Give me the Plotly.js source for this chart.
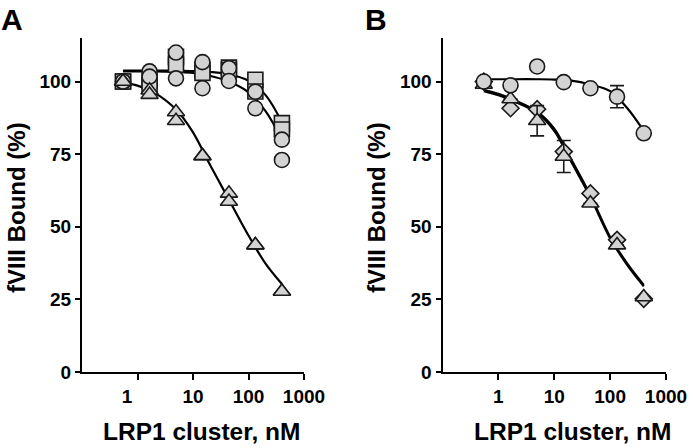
<!DOCTYPE html>
<html>
<head>
<meta charset="utf-8">
<script src="https://cdn.plot.ly/plotly-3.0.1.min.js"></script>
<style>html,body{margin:0;padding:0;background:#fff;}#chart{width:693px;height:448px;}</style>
</head>
<body>
<div id="chart"></div>
<script>
// LRP1 cluster concentrations (nM)
const conc = [0.549, 1.65, 4.94, 14.8, 44.4, 133, 400];

// Panel A – replicate values (% fVIII bound)
const circA1 = [100, 103.5, 110, 106.7, 104.6, 96.5, 80];
const circA2 = [100, 101.7, 101.1, 97.7, 100.2, 90.8, 73];
const sqA1 = [100, 100.2, 108.5, 104, 104.8, 100.6, 85.7];
const sqA2 = [100, 98.8, 105.8, 103, 104, 96.6, 83.5];
const triA1 = [100, 97, 89.5, 74.4, 61.5, 43.7, 27.7];
const triA2 = [100, 95.5, 86.5, 74.4, 58.7, 43.7, 27.7];

// Panel B – means (% fVIII bound) and SD
const circB = [100, 98.7, 105.2, 99.8, 97.7, 94.8, 82.2];
const circBErr = [0, 0, 0, 0, 0, 3.8, 0];
const triB = [99, 94, 86.5, 74.2, 58.1, 43.7, 25.8];
const triBErr = [0, 0, 5.2, 5.5, 0, 0, 0];
const diaB = [100, 90.8, 90.5, 75.9, 61.5, 45.5, 25.2];

// Fitted curves
const fitX = [0.55, 1, 2, 5, 10, 20, 44, 100, 200, 400];
const fitCircA = [103.5, 103.5, 103.5, 103.3, 103, 102, 100, 96.3, 90, 80];
const fitSqA = [103.8, 103.8, 103.8, 103.7, 103.6, 103.3, 102.5, 100.3, 95.5, 86];
const fitTriA = [99.7, 98.6, 96.2, 90.3, 82.5, 71.5, 59.5, 47, 37.5, 30.3];
const fitCircB = [100.8, 100.8, 100.8, 100.8, 100.7, 100.3, 99, 96.7, 91, 83];
const fitTriB = [96.7, 95.3, 93, 89.1, 83, 72.5, 60.3, 46, 37, 29.5];
const fitDiaB = [97.2, 95.8, 93.5, 89.6, 83.8, 73.3, 61, 46.5, 37.5, 30];

const xTicks = [1, 10, 100, 1000];
const xTickTextA = ['1\u00a0\u00a0\u00a0\u00a0', '10', '100', '1000'];
const xTickTextB = ['1', '10', '100', '1000'];
const yTicks = [0, 25, 50, 75, 100];

const fill = '#d3d3d3';
const edge = '#1a1a1a';

function curve(x, y, xa, ya) {
  return {x: x, y: y, xaxis: xa, yaxis: ya, type: 'scatter', mode: 'lines',
    line: {color: '#000', width: 2.2, shape: 'spline', smoothing: 1}, hoverinfo: 'skip'};
}
function pts(y, sym, size, xa, ya, err) {
  const t = {x: conc, y: y, xaxis: xa, yaxis: ya, type: 'scatter', mode: 'markers',
    marker: {symbol: sym, size: size, color: fill, line: {color: edge, width: 1.6}}};
  if (err) t.error_y = {type: 'data', array: err, visible: true, color: edge, thickness: 1.6, width: 7};
  return t;
}

const data = [
  curve(fitX, fitCircA, 'x', 'y'),
  curve(fitX, fitSqA, 'x', 'y'),
  curve(fitX, fitTriA, 'x', 'y'),
  pts(sqA1, 'square', 15, 'x', 'y'),
  pts(sqA2, 'square', 15, 'x', 'y'),
  pts(circA1, 'circle', 15, 'x', 'y'),
  pts(circA2, 'circle', 15, 'x', 'y'),
  pts(triA1, 'triangle-up', 15, 'x', 'y'),
  pts(triA2, 'triangle-up', 15, 'x', 'y'),
  curve(fitX, fitCircB, 'x2', 'y2'),
  curve(fitX, fitTriB, 'x2', 'y2'),
  curve(fitX, fitDiaB, 'x2', 'y2'),
  pts(diaB, 'diamond', 13, 'x2', 'y2'),
  pts(triB, 'triangle-up', 15, 'x2', 'y2', triBErr),
  pts(circB, 'circle', 15, 'x2', 'y2', circBErr)
];

const tickFont = {family: 'Liberation Sans, Arial, sans-serif', size: 19, color: '#000', weight: 'bold'};
function xa(domain, anchor, txt) {
  return {domain: domain, anchor: anchor, type: 'log', range: [-1, 3], tickvals: xTicks, ticktext: txt,
    ticks: 'outside', ticklen: 6, tickwidth: 2, tickcolor: '#000', showline: true, linewidth: 2,
    linecolor: '#000', showgrid: false, zeroline: false, tickfont: tickFont, fixedrange: true};
}
function ya(domain, anchor) {
  return {domain: domain, anchor: anchor, range: [0, 115], tickvals: yTicks, ticktext: yTicks.map(String),
    ticks: 'outside', ticklen: 5, tickwidth: 2, tickcolor: '#000', showline: true, linewidth: 2,
    linecolor: '#000', showgrid: false, zeroline: false, tickfont: tickFont, fixedrange: true};
}

const W = 693, H = 448;
const annFont = (s) => ({family: 'Liberation Sans, Arial, sans-serif', size: s, color: '#000', weight: 'bold'});
function ann(text, px, py, size, angle) {
  return {text: text, xref: 'paper', yref: 'paper', x: px / W, y: 1 - py / H, xanchor: 'center',
    yanchor: 'middle', showarrow: false, font: annFont(size), textangle: angle || 0, borderpad: 0};
}

const layout = {
  width: W, height: H,
  margin: {l: 0, r: 0, t: 0, b: 0},
  paper_bgcolor: '#fff', plot_bgcolor: '#fff',
  showlegend: false,
  xaxis: xa([82 / W, 304 / W], 'y', xTickTextA),
  yaxis: ya([1 - 372 / H, 1 - 38 / H], 'x'),
  xaxis2: xa([442.5 / W, 666 / W], 'y2', xTickTextB),
  yaxis2: ya([1 - 372 / H, 1 - 38 / H], 'x2'),
  annotations: [
    ann('A', 12, 19, 30),
    ann('B', 376, 19, 30),
    ann('LRP1 cluster, nM', 201, 431, 24.5),
    ann('LRP1 cluster, nM', 572, 431, 24.5),
    ann('fVIII Bound (%)', 16, 208, 24, -90),
    ann('fVIII Bound (%)', 376, 208, 24, -90)
  ]
};

Plotly.newPlot('chart', data, layout, {staticPlot: true, displayModeBar: false});
</script>
</body>
</html>
